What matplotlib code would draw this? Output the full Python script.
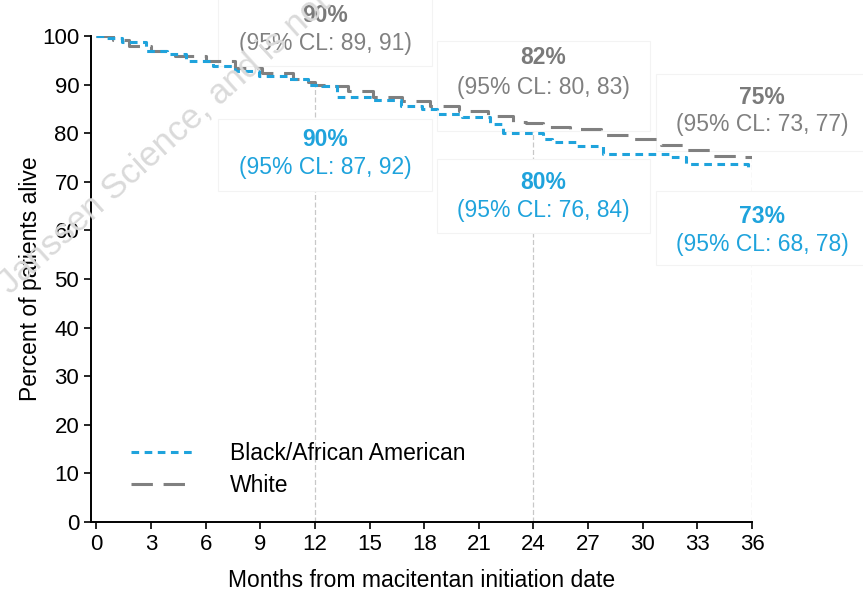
import matplotlib

matplotlib.use("Agg")
import matplotlib.pyplot as plt
from matplotlib.patches import Rectangle

plt.rcParams.update(
    {
        "font.family": ["Liberation Sans", "DejaVu Sans"],
        "axes.linewidth": 1.4,
    }
)

# Kaplan-Meier step data (months, percent alive)
white_t = [0, 0.9, 1.8, 3.0, 4.3, 6.0, 7.6, 9.1, 10.8, 11.6, 12.0, 12.6, 13.8,
           15.2, 16.8, 18.3, 19.9, 21.5, 22.9, 23.6, 24.5, 26.0, 27.7, 29.4,
           31.0, 32.3, 33.8, 35.4, 36.0]
white_s = [100, 99.2, 98.0, 97.0, 95.9, 94.8, 93.4, 92.4, 91.1, 90.5, 90.0, 89.7,
           88.7, 87.4, 86.6, 85.6, 84.5, 83.5, 82.3, 82.0, 81.2, 80.8, 79.6, 78.8,
           77.5, 76.5, 75.3, 75.0, 75.0]

black_t = [0, 0.6, 1.4, 2.7, 3.9, 4.9, 6.4, 7.6, 8.9, 10.6, 11.6, 12.4, 13.2,
           15.2, 16.7, 17.9, 18.7, 20.1, 21.6, 22.3, 24.5, 25.0, 26.4, 27.8,
           31.5, 32.4, 35.8, 36.0]
black_s = [100, 99.5, 98.8, 96.9, 96.3, 94.8, 93.8, 92.8, 91.8, 91.1, 90.0, 89.7,
           87.4, 86.8, 85.6, 85.0, 83.9, 83.3, 81.9, 80.0, 78.8, 78.1, 77.3, 75.7,
           75.0, 73.6, 73.0, 73.0]

landmarks = [12, 24, 36]
white_pct = [90, 82, 75]
white_ci = [(89, 91), (80, 83), (73, 77)]
black_pct = [90, 80, 73]
black_ci = [(87, 92), (76, 84), (68, 78)]

BLUE = "#1fa3dc"
GREY = "#808080"
FS = 16.5


def value_at(ts, ss, x):
    v = ss[0]
    for t, s in zip(ts, ss):
        if t <= x:
            v = s
    return v


fig = plt.figure(figsize=(8.63, 5.95), dpi=100)
ax = fig.add_axes([0.1054, 0.1227, 0.766, 0.8168])

# faint watermark behind everything
fig.text(0.012, 0.505, "Janssen Science, and is not intended",
         rotation=42, rotation_mode="anchor", fontsize=25, color="#dadada",
         ha="left", va="baseline", zorder=0)

# landmark guide lines
for m in landmarks:
    top = max(value_at(white_t, white_s, m), value_at(black_t, black_s, m))
    ax.plot([m, m], [0, top], color="#c8c8c8", lw=0.9, ls=(0, (4, 2)), zorder=1)

# white annotation panels behind the landmark labels
grey_boxes = [(93.8, 110.0), (80.5, 99.0), (76.4, 92.2)]
blue_boxes = [(68.2, 83.0), (59.5, 74.7), (52.8, 68.2)]
for m, gb, bb in zip(landmarks, grey_boxes, blue_boxes):
    for y0, y1 in (gb, bb):
        ax.add_patch(Rectangle((m - 5.3, y0), 11.7, y1 - y0, facecolor="white",
                               edgecolor="#f3f3f3", lw=0.8, zorder=2, clip_on=False))

ax.step(black_t, black_s, where="post", color=BLUE, lw=2.2,
        ls=(0, (2.5, 1.8)), label="Black/African American", zorder=4)
ax.step(white_t, white_s, where="post", color=GREY, lw=2.2,
        ls=(0, (7, 3.5)), label="White", zorder=3)

# landmark survival labels
w_pos = [(104.2, 98.4), (95.5, 89.3), (87.4, 81.7)]
b_pos = [(78.8, 73.0), (69.9, 64.1), (62.9, 57.1)]
for m, p, ci, (y1, y2) in zip(landmarks, white_pct, white_ci, w_pos):
    ax.text(m + 0.55, y1, f"{p}%", color="#7a7a7a", fontsize=FS, fontweight="bold",
            ha="center", va="center", zorder=5, clip_on=False)
    ax.text(m + 0.55, y2, f"(95% CL: {ci[0]}, {ci[1]})", color=GREY, fontsize=FS,
            ha="center", va="center", zorder=5, clip_on=False)
for m, p, ci, (y1, y2) in zip(landmarks, black_pct, black_ci, b_pos):
    ax.text(m + 0.55, y1, f"{p}%", color=BLUE, fontsize=FS, fontweight="bold",
            ha="center", va="center", zorder=5, clip_on=False)
    ax.text(m + 0.55, y2, f"(95% CL: {ci[0]}, {ci[1]})", color=BLUE, fontsize=FS,
            ha="center", va="center", zorder=5, clip_on=False)

ax.set_xlim(-0.3, 36)
ax.set_ylim(0, 100)
ax.set_xticks(range(0, 37, 3))
ax.set_yticks(range(0, 101, 10))
ax.tick_params(direction="out", length=5, width=1.2, labelsize=16, colors="black")
ax.spines["top"].set_visible(False)
ax.spines["right"].set_visible(False)
ax.set_facecolor("none")
ax.set_xlabel("Months from macitentan initiation date", fontsize=FS, labelpad=10)
ax.set_ylabel("Percent of patients alive", fontsize=FS, labelpad=0)

ax.legend(loc="lower left", bbox_to_anchor=(0.03, 0.008), frameon=False,
          fontsize=FS, handlelength=2.7, handletextpad=1.6, labelspacing=0.4)

fig.savefig("out.png", dpi=100, facecolor="white")
